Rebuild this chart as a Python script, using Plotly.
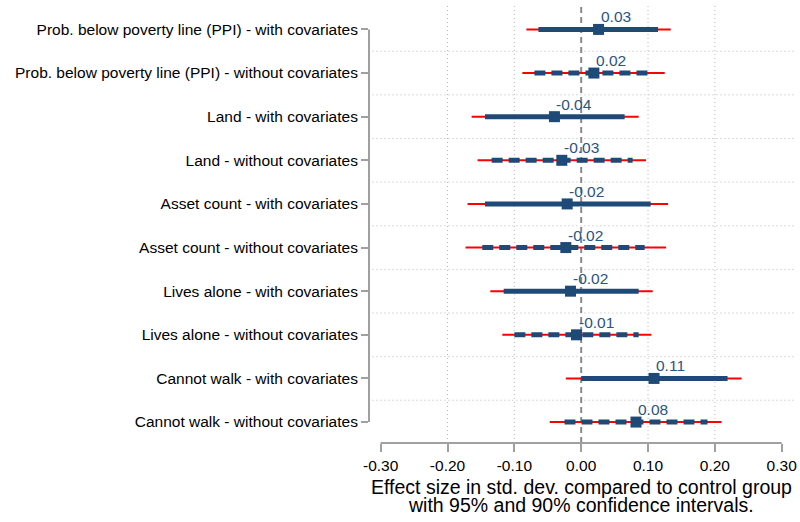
import plotly.graph_objects as go

categories = [
    "Prob. below poverty line (PPI) - with covariates",
    "Prob. below poverty line (PPI) - without covariates",
    "Land - with covariates",
    "Land - without covariates",
    "Asset count - with covariates",
    "Asset count - without covariates",
    "Lives alone - with covariates",
    "Lives alone - without covariates",
    "Cannot walk - with covariates",
    "Cannot walk - without covariates",
]
estimate = [0.026, 0.019, -0.040, -0.029, -0.021, -0.023, -0.016, -0.007, 0.109, 0.082]
ci95_lo = [-0.082, -0.088, -0.164, -0.155, -0.170, -0.173, -0.136, -0.118, -0.023, -0.047]
ci95_hi = [0.134, 0.125, 0.086, 0.097, 0.130, 0.127, 0.107, 0.105, 0.240, 0.210]
ci90_lo = [-0.064, -0.070, -0.144, -0.134, -0.144, -0.148, -0.116, -0.100, 0.000, -0.025]
ci90_hi = [0.115, 0.107, 0.065, 0.077, 0.104, 0.095, 0.086, 0.086, 0.219, 0.189]
with_cov = [True, False, True, False, True, False, True, False, True, False]
x_ticks = [-0.3, -0.2, -0.1, 0.0, 0.1, 0.2, 0.3]
x_ticklabels = ["-0.30", "-0.20", "-0.10", "0.00", "0.10", "0.20", "0.30"]

NAVY = "#1f4a78"
RED = "#ff0000"
GRID = "#b8b8b8"
AX = "#a0a0a0"
FONT = "Liberation Sans, Arial, sans-serif"

rows = list(range(len(categories)))

def seg(lo, hi, mask):
    xs, ys = [], []
    for i in rows:
        if mask[i]:
            xs += [lo[i], hi[i], None]
            ys += [i, i, None]
    return xs, ys

fig = go.Figure()

x95, y95 = seg(ci95_lo, ci95_hi, [True] * len(rows))
fig.add_trace(go.Scatter(x=x95, y=y95, mode="lines", line=dict(color=RED, width=2),
                         hoverinfo="skip", showlegend=False))
xs, ys = seg(ci90_lo, ci90_hi, with_cov)
fig.add_trace(go.Scatter(x=xs, y=ys, mode="lines", line=dict(color=NAVY, width=5),
                         hoverinfo="skip", showlegend=False))
xd, yd = seg(ci90_lo, ci90_hi, [not w for w in with_cov])
fig.add_trace(go.Scatter(x=xd, y=yd, mode="lines",
                         line=dict(color=NAVY, width=5, dash="11px,6px"),
                         hoverinfo="skip", showlegend=False))
fig.add_trace(go.Scatter(x=estimate, y=rows, mode="markers",
                         marker=dict(symbol="square", size=11, color=NAVY),
                         showlegend=False))

for i in rows:
    fig.add_annotation(x=estimate[i], y=i, xref="x", yref="y", text=f"{estimate[i]:.2f}",
                       showarrow=False, xanchor="left", yanchor="bottom",
                       xshift=0, yshift=2, font=dict(family=FONT, size=15.5, color="#2a5580"))

shapes = []
# vertical gridlines
for v in [-0.2, -0.1, 0.1, 0.2]:
    shapes.append(dict(type="line", xref="x", yref="paper", x0=v, x1=v, y0=0, y1=1,
                       line=dict(color=GRID, width=1, dash="1px,3px"), layer="below"))
# horizontal gridlines between rows
for i in range(len(rows) - 1):
    shapes.append(dict(type="line", xref="paper", yref="y", x0=0.008, x1=0.985,
                       y0=i + 0.5, y1=i + 0.5,
                       line=dict(color=GRID, width=1, dash="1px,3px"), layer="below"))
# zero line
shapes.append(dict(type="line", xref="x", yref="paper", x0=0, x1=0, y0=0, y1=1,
                   line=dict(color="#8a8a8a", width=2, dash="6px,4px"), layer="below"))
# y axis line
shapes.append(dict(type="line", xref="paper", yref="y", x0=0, x1=0, y0=0, y1=len(rows) - 1,
                   line=dict(color=AX, width=2)))
# x axis line
shapes.append(dict(type="line", xref="x", yref="paper", x0=-0.3, x1=0.3, y0=0, y1=0,
                   line=dict(color=AX, width=2)))

fig.add_annotation(x=0, y=0, xref="x", yref="paper", text="Effect size in std. dev. compared to control group",
                   showarrow=False, xanchor="center", yanchor="middle", yshift=-44,
                   font=dict(family=FONT, size=19.5, color="black"))
fig.add_annotation(x=0, y=0, xref="x", yref="paper", text="with 95% and 90% confidence intervals.",
                   showarrow=False, xanchor="center", yanchor="middle", yshift=-62,
                   font=dict(family=FONT, size=19.5, color="black"))

fig.update_layout(
    width=800, height=522,
    margin=dict(l=369, r=0, t=5, b=79),
    plot_bgcolor="white", paper_bgcolor="white",
    shapes=shapes,
    font=dict(family=FONT, size=15.5, color="black"),
    xaxis=dict(range=[-0.3175, 0.3274], tickvals=x_ticks, ticktext=x_ticklabels,
               showgrid=False, zeroline=False, showline=False,
               ticks="outside", ticklen=8, tickwidth=2, tickcolor=AX,
               tickfont=dict(family=FONT, size=15.5, color="black")),
    yaxis=dict(range=[9.48, -0.56], tickvals=rows, ticktext=categories,
               showgrid=False, zeroline=False, showline=False,
               ticks="outside", ticklen=7, tickwidth=2, tickcolor=AX,
               tickfont=dict(family=FONT, size=15.5, color="black")),
)

fig.write_html("out.html", config={"displayModeBar": False},
               post_script="document.body.style.margin='0';document.body.style.overflow='hidden';")
